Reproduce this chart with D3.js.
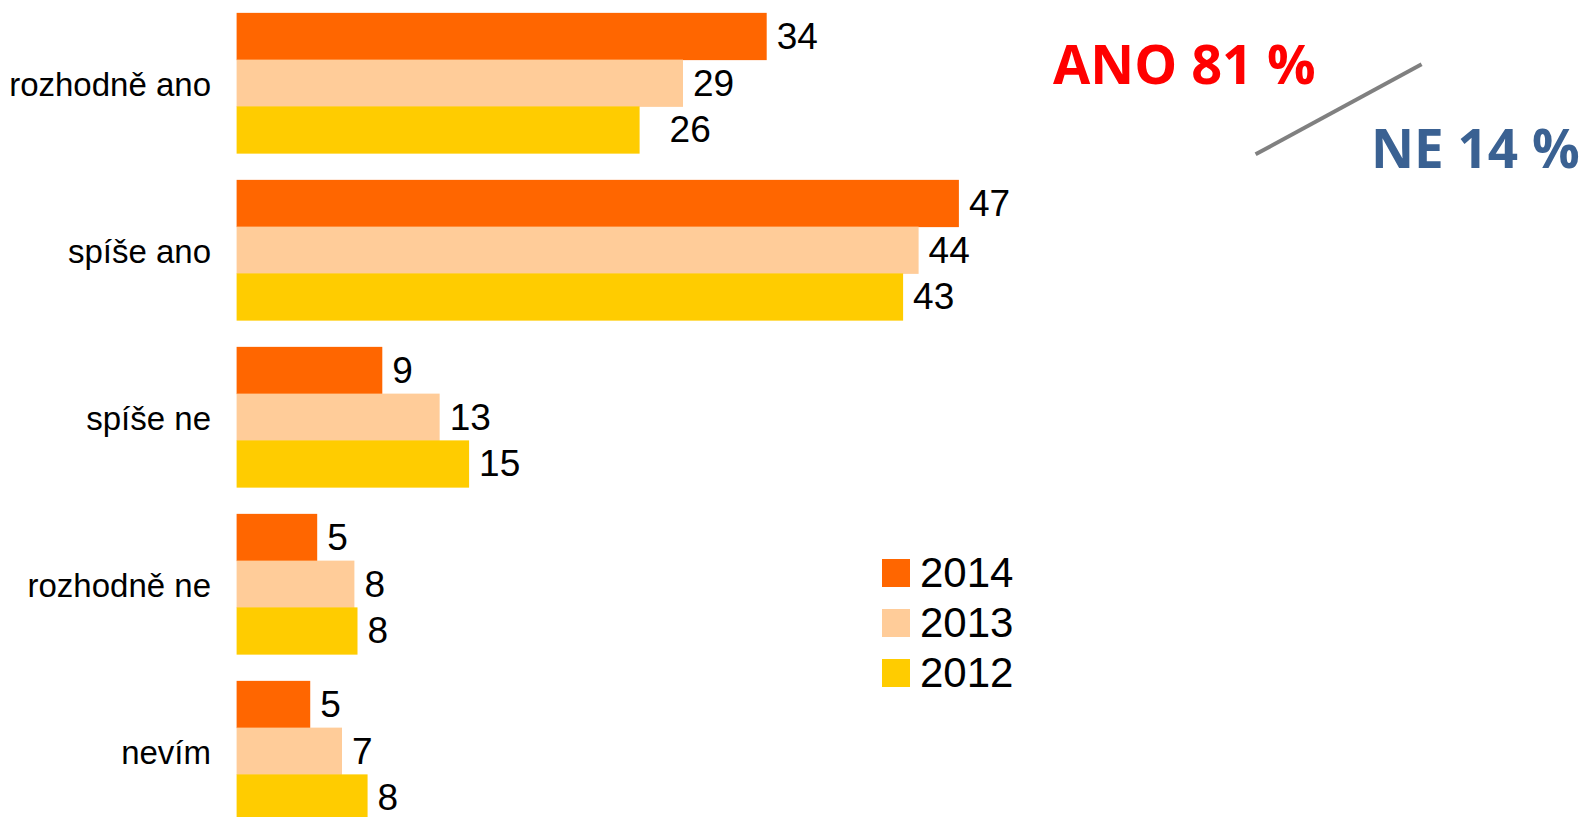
<!DOCTYPE html>
<html>
<head>
<meta charset="utf-8">
<script src="https://cdn.jsdelivr.net/npm/d3@7"></script>
<style>
  html, body { margin: 0; padding: 0; background: #fff; overflow: hidden; }
  text { font-family: "Liberation Sans", Arial, sans-serif; }
</style>
</head>
<body>
<script>
const width = 1585, height = 817;

// categories (top to bottom) and the years shown for each
const categories = ['rozhodně ano', 'spíše ano', 'spíše ne', 'rozhodně ne', 'nevím'];
const years = ['2014', '2013', '2012'];

// percentages, one list per year
const values2014 = [34.2, 46.6, 9.4, 5.2, 4.75];
const values2013 = [28.8, 44.0, 13.1, 7.6, 6.8];
const values2012 = [26.0, 43.0, 15.0, 7.8, 8.45];

// summary captions
const summaryYes = 'ANO 81 %';
const summaryNo = 'NE 14 %';

const colors = { '2014': '#ff6600', '2013': '#ffcc99', '2012': '#ffcc00' };

const series = { '2014': values2014, '2013': values2013, '2012': values2012 };
const rows = categories.map((c, i) => ({
    category: c,
    bars: years.map(y => ({ year: y, value: series[y][i] }))
}));

const svg = d3.select('body')
    .append('svg')
    .attr('width', width)
    .attr('height', height);

//scales
const xScale = d3.scaleLinear().domain([0, 50]).range([236.6, 236.6 + 50 * 15.5]);
const yScale = d3.scaleBand().domain(categories)
    .range([-0.5, 834.5])
    .paddingInner(0.16)
    .paddingOuter(0.08);
const yInner = d3.scaleBand().domain(years).range([0, yScale.bandwidth()]);

const fmt = d3.format('.0f');

const groups = svg.append('g').selectAll('g')
    .data(rows)
    .enter().append('g')
    .attr('transform', d => `translate(0,${yScale(d.category)})`);

groups.selectAll('rect')
    .data(d => d.bars)
    .enter().append('rect')
    .attr('x', xScale(0))
    .attr('y', d => yInner(d.year))
    .attr('width', d => xScale(d.value) - xScale(0))
    .attr('height', yInner.bandwidth() + 0.5)
    .style('fill', d => colors[d.year]);

//value labels (Excel pushed the 26 label a bit further out)
groups.selectAll('text.value')
    .data(d => d.bars.map(b => Object.assign({ category: d.category }, b)))
    .enter().append('text')
    .attr('class', 'value')
    .attr('x', d => xScale(d.value) + 10 + (d.category === 'rozhodně ano' && d.year === '2012' ? 20 : 0))
    .attr('y', d => yInner(d.year) + yInner.bandwidth() / 2)
    .attr('dy', '0.34em')
    .style('font-size', '37px')
    .style('fill', '#000')
    .text(d => fmt(d.value));

//category labels
groups.append('text')
    .attr('x', 211)
    .attr('y', yScale.bandwidth() / 2)
    .attr('dy', '0.39em')
    .attr('text-anchor', 'end')
    .style('font-size', '33px')
    .style('fill', '#000')
    .text(d => d.category);

//legend
const legend = svg.append('g').attr('transform', 'translate(882,559)');
const legendItem = legend.selectAll('g')
    .data(years)
    .enter().append('g')
    .attr('transform', (d, i) => `translate(0,${i * 50})`);
legendItem.append('rect')
    .attr('width', 28)
    .attr('height', 28)
    .style('fill', d => colors[d]);
legendItem.append('text')
    .attr('x', 38)
    .attr('y', 28)
    .style('font-size', '42px')
    .style('fill', '#000')
    .text(d => d);

//summary annotation
svg.append('line')
    .attr('x1', 1255.6).attr('y1', 154.3)
    .attr('x2', 1421.6).attr('y2', 64.3)
    .style('stroke', '#808080')
    .style('stroke-width', 4);

svg.append('text')
    .attr('x', 1053)
    .attr('y', 84)
    .style('font-family', '"Open Sans", "Noto Sans", sans-serif')
    .style('font-weight', 700)
    .style('font-size', '54px')
    .style('fill', '#ff0000')
    .text(summaryYes);

svg.append('text')
    .attr('x', 1371)
    .attr('y', 167.7)
    .style('font-family', '"Open Sans", "Noto Sans", sans-serif')
    .style('font-weight', 700)
    .style('font-size', '53px')
    .style('fill', '#3a6192')
    .text(summaryNo);
</script>
</body>
</html>
